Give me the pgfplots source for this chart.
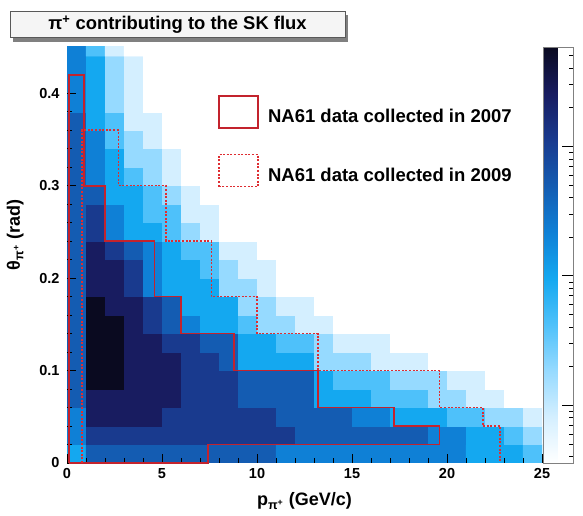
\documentclass[border=0pt]{standalone}
\usepackage{fontspec}
\setmainfont{Liberation Sans}
\usepackage{pgfplots}
\pgfplotsset{compat=1.18}
\definecolor{solidred}{RGB}{195,35,45}
\definecolor{dashred}{RGB}{222,45,50}
\pgfplotsset{boxlegend/.style={legend image code/.code={\draw[##1] (0pt,-11pt) rectangle (39pt,21pt);}}}
\begin{document}
\begin{tikzpicture}
\useasboundingbox (0,0) rectangle (583pt,516pt);
\begin{axis}[
  at={(67pt,53pt)}, anchor=south west,
  scale only axis, width=475pt, height=416pt,
  xmin=0, xmax=25, ymin=0, ymax=0.45,
  axis on top,
  axis line style={draw=none},
  tick pos=left, tick align=inside,
  xtick={0,5,10,15,20,25}, xticklabels={0,5,10,15,20,25},
  ytick={0,0.1,0.2,0.3,0.4}, yticklabels={0,0.1,0.2,0.3,0.4},
  minor x tick num=4, minor y tick num=4,
  major tick length=9pt, minor tick length=5pt,
  tick style={black, line width=0.8pt},
  tick label style={font=\bfseries\fontsize{14.5}{14.5}\selectfont},
  xticklabel style={yshift=-2pt},
  yticklabel style={xshift=-4pt},
  xlabel={p\textsubscript{π\textsuperscript{+}} (GeV/c)},
  ylabel={θ\textsubscript{π\textsuperscript{+}} (rad)},
  label style={font=\bfseries\fontsize{18}{18}\selectfont},
  xlabel style={at={(axis description cs:0.5,-0.092)}, anchor=center},
  ylabel style={at={(axis description cs:-0.109,0.548)}, anchor=center},
  colormap={root}{rgb255(0cm)=(255,255,255); rgb255(1cm)=(212,239,255); rgb255(2cm)=(150,218,255); rgb255(3cm)=(78,193,250); rgb255(4cm)=(20,168,240); rgb255(5cm)=(15,128,214); rgb255(6cm)=(20,92,178); rgb255(7cm)=(25,58,142); rgb255(8cm)=(24,28,96); rgb255(9cm)=(10,10,32)},
  point meta min=0, point meta max=9,
  colorbar,
  colorbar shift/.style={xshift=1.5pt},
  colorbar style={
    at={(parent axis.north east)}, anchor=north west,
    width=30pt,
    ytick={1.25,4.05,6.85}, yticklabels={,,},
    minor ytick={0.14,0.41,0.63,0.82,0.98,1.12,2.09,2.59,2.94,3.21,3.43,3.62,3.78,3.92,4.89,5.39,5.74,6.01,6.23,6.42,6.58,6.72,7.69,8.19,8.54,8.81},
    ytick pos=right, tick align=inside,
    major tick length=12pt, minor tick length=5pt,
    axis line style={draw=gray, line width=0.8pt},
    tick style={black, line width=0.6pt},
  },
]
\addplot[matrix plot*, mesh/cols=25, point meta=explicit] table[meta=c, row sep=\\] {
x y c\\
0.5 0.01 4\\ 1.5 0.01 6\\ 2.5 0.01 6\\ 3.5 0.01 6\\ 4.5 0.01 6\\ 5.5 0.01 6\\ 6.5 0.01 6\\ 7.5 0.01 6\\ 8.5 0.01 6\\ 9.5 0.01 6\\ 10.5 0.01 6\\ 11.5 0.01 5\\ 12.5 0.01 5\\ 13.5 0.01 5\\ 14.5 0.01 5\\ 15.5 0.01 5\\ 16.5 0.01 5\\ 17.5 0.01 5\\ 18.5 0.01 5\\ 19.5 0.01 5\\ 20.5 0.01 5\\ 21.5 0.01 4\\ 22.5 0.01 4\\ 23.5 0.01 4\\ 24.5 0.01 3\\
0.5 0.03 5\\ 1.5 0.03 7\\ 2.5 0.03 7\\ 3.5 0.03 7\\ 4.5 0.03 7\\ 5.5 0.03 7\\ 6.5 0.03 7\\ 7.5 0.03 7\\ 8.5 0.03 7\\ 9.5 0.03 7\\ 10.5 0.03 7\\ 11.5 0.03 7\\ 12.5 0.03 6\\ 13.5 0.03 6\\ 14.5 0.03 6\\ 15.5 0.03 6\\ 16.5 0.03 6\\ 17.5 0.03 6\\ 18.5 0.03 6\\ 19.5 0.03 5\\ 20.5 0.03 5\\ 21.5 0.03 4\\ 22.5 0.03 4\\ 23.5 0.03 3\\ 24.5 0.03 2\\
0.5 0.05 5\\ 1.5 0.05 8\\ 2.5 0.05 8\\ 3.5 0.05 8\\ 4.5 0.05 8\\ 5.5 0.05 7\\ 6.5 0.05 7\\ 7.5 0.05 7\\ 8.5 0.05 7\\ 9.5 0.05 7\\ 10.5 0.05 7\\ 11.5 0.05 6\\ 12.5 0.05 6\\ 13.5 0.05 6\\ 14.5 0.05 6\\ 15.5 0.05 5\\ 16.5 0.05 5\\ 17.5 0.05 4\\ 18.5 0.05 4\\ 19.5 0.05 4\\ 20.5 0.05 3\\ 21.5 0.05 3\\ 22.5 0.05 2\\ 23.5 0.05 2\\ 24.5 0.05 1\\
0.5 0.07 6\\ 1.5 0.07 8\\ 2.5 0.07 8\\ 3.5 0.07 8\\ 4.5 0.07 8\\ 5.5 0.07 8\\ 6.5 0.07 7\\ 7.5 0.07 7\\ 8.5 0.07 7\\ 9.5 0.07 6\\ 10.5 0.07 6\\ 11.5 0.07 6\\ 12.5 0.07 6\\ 13.5 0.07 4\\ 14.5 0.07 4\\ 15.5 0.07 4\\ 16.5 0.07 3\\ 17.5 0.07 3\\ 18.5 0.07 3\\ 19.5 0.07 2\\ 20.5 0.07 2\\ 21.5 0.07 1\\ 22.5 0.07 1\\ 23.5 0.07 0\\ 24.5 0.07 0\\
0.5 0.09 6\\ 1.5 0.09 9\\ 2.5 0.09 9\\ 3.5 0.09 8\\ 4.5 0.09 8\\ 5.5 0.09 8\\ 6.5 0.09 7\\ 7.5 0.09 7\\ 8.5 0.09 7\\ 9.5 0.09 6\\ 10.5 0.09 6\\ 11.5 0.09 6\\ 12.5 0.09 6\\ 13.5 0.09 4\\ 14.5 0.09 3\\ 15.5 0.09 3\\ 16.5 0.09 3\\ 17.5 0.09 2\\ 18.5 0.09 2\\ 19.5 0.09 2\\ 20.5 0.09 1\\ 21.5 0.09 1\\ 22.5 0.09 0\\ 23.5 0.09 0\\ 24.5 0.09 0\\
0.5 0.11 6\\ 1.5 0.11 9\\ 2.5 0.11 9\\ 3.5 0.11 8\\ 4.5 0.11 8\\ 5.5 0.11 8\\ 6.5 0.11 7\\ 7.5 0.11 7\\ 8.5 0.11 6\\ 9.5 0.11 4\\ 10.5 0.11 4\\ 11.5 0.11 4\\ 12.5 0.11 4\\ 13.5 0.11 2\\ 14.5 0.11 2\\ 15.5 0.11 2\\ 16.5 0.11 1\\ 17.5 0.11 1\\ 18.5 0.11 1\\ 19.5 0.11 0\\ 20.5 0.11 0\\ 21.5 0.11 0\\ 22.5 0.11 0\\ 23.5 0.11 0\\ 24.5 0.11 0\\
0.5 0.13 6\\ 1.5 0.13 9\\ 2.5 0.13 9\\ 3.5 0.13 8\\ 4.5 0.13 8\\ 5.5 0.13 7\\ 6.5 0.13 7\\ 7.5 0.13 6\\ 8.5 0.13 6\\ 9.5 0.13 4\\ 10.5 0.13 4\\ 11.5 0.13 3\\ 12.5 0.13 3\\ 13.5 0.13 2\\ 14.5 0.13 1\\ 15.5 0.13 1\\ 16.5 0.13 1\\ 17.5 0.13 0\\ 18.5 0.13 0\\ 19.5 0.13 0\\ 20.5 0.13 0\\ 21.5 0.13 0\\ 22.5 0.13 0\\ 23.5 0.13 0\\ 24.5 0.13 0\\
0.5 0.15 6\\ 1.5 0.15 9\\ 2.5 0.15 9\\ 3.5 0.15 8\\ 4.5 0.15 7\\ 5.5 0.15 6\\ 6.5 0.15 5\\ 7.5 0.15 4\\ 8.5 0.15 4\\ 9.5 0.15 3\\ 10.5 0.15 2\\ 11.5 0.15 2\\ 12.5 0.15 1\\ 13.5 0.15 1\\ 14.5 0.15 0\\ 15.5 0.15 0\\ 16.5 0.15 0\\ 17.5 0.15 0\\ 18.5 0.15 0\\ 19.5 0.15 0\\ 20.5 0.15 0\\ 21.5 0.15 0\\ 22.5 0.15 0\\ 23.5 0.15 0\\ 24.5 0.15 0\\
0.5 0.17 6\\ 1.5 0.17 9\\ 2.5 0.17 8\\ 3.5 0.17 8\\ 4.5 0.17 7\\ 5.5 0.17 6\\ 6.5 0.17 4\\ 7.5 0.17 4\\ 8.5 0.17 4\\ 9.5 0.17 2\\ 10.5 0.17 2\\ 11.5 0.17 1\\ 12.5 0.17 1\\ 13.5 0.17 0\\ 14.5 0.17 0\\ 15.5 0.17 0\\ 16.5 0.17 0\\ 17.5 0.17 0\\ 18.5 0.17 0\\ 19.5 0.17 0\\ 20.5 0.17 0\\ 21.5 0.17 0\\ 22.5 0.17 0\\ 23.5 0.17 0\\ 24.5 0.17 0\\
0.5 0.19 6\\ 1.5 0.19 8\\ 2.5 0.19 8\\ 3.5 0.19 7\\ 4.5 0.19 5\\ 5.5 0.19 4\\ 6.5 0.19 4\\ 7.5 0.19 4\\ 8.5 0.19 2\\ 9.5 0.19 2\\ 10.5 0.19 1\\ 11.5 0.19 0\\ 12.5 0.19 0\\ 13.5 0.19 0\\ 14.5 0.19 0\\ 15.5 0.19 0\\ 16.5 0.19 0\\ 17.5 0.19 0\\ 18.5 0.19 0\\ 19.5 0.19 0\\ 20.5 0.19 0\\ 21.5 0.19 0\\ 22.5 0.19 0\\ 23.5 0.19 0\\ 24.5 0.19 0\\
0.5 0.21 6\\ 1.5 0.21 8\\ 2.5 0.21 8\\ 3.5 0.21 7\\ 4.5 0.21 5\\ 5.5 0.21 4\\ 6.5 0.21 4\\ 7.5 0.21 3\\ 8.5 0.21 2\\ 9.5 0.21 1\\ 10.5 0.21 1\\ 11.5 0.21 0\\ 12.5 0.21 0\\ 13.5 0.21 0\\ 14.5 0.21 0\\ 15.5 0.21 0\\ 16.5 0.21 0\\ 17.5 0.21 0\\ 18.5 0.21 0\\ 19.5 0.21 0\\ 20.5 0.21 0\\ 21.5 0.21 0\\ 22.5 0.21 0\\ 23.5 0.21 0\\ 24.5 0.21 0\\
0.5 0.23 6\\ 1.5 0.23 8\\ 2.5 0.23 7\\ 3.5 0.23 6\\ 4.5 0.23 5\\ 5.5 0.23 4\\ 6.5 0.23 3\\ 7.5 0.23 3\\ 8.5 0.23 1\\ 9.5 0.23 1\\ 10.5 0.23 0\\ 11.5 0.23 0\\ 12.5 0.23 0\\ 13.5 0.23 0\\ 14.5 0.23 0\\ 15.5 0.23 0\\ 16.5 0.23 0\\ 17.5 0.23 0\\ 18.5 0.23 0\\ 19.5 0.23 0\\ 20.5 0.23 0\\ 21.5 0.23 0\\ 22.5 0.23 0\\ 23.5 0.23 0\\ 24.5 0.23 0\\
0.5 0.25 6\\ 1.5 0.25 7\\ 2.5 0.25 5\\ 3.5 0.25 4\\ 4.5 0.25 4\\ 5.5 0.25 3\\ 6.5 0.25 2\\ 7.5 0.25 1\\ 8.5 0.25 0\\ 9.5 0.25 0\\ 10.5 0.25 0\\ 11.5 0.25 0\\ 12.5 0.25 0\\ 13.5 0.25 0\\ 14.5 0.25 0\\ 15.5 0.25 0\\ 16.5 0.25 0\\ 17.5 0.25 0\\ 18.5 0.25 0\\ 19.5 0.25 0\\ 20.5 0.25 0\\ 21.5 0.25 0\\ 22.5 0.25 0\\ 23.5 0.25 0\\ 24.5 0.25 0\\
0.5 0.27 6\\ 1.5 0.27 7\\ 2.5 0.27 5\\ 3.5 0.27 4\\ 4.5 0.27 3\\ 5.5 0.27 3\\ 6.5 0.27 1\\ 7.5 0.27 1\\ 8.5 0.27 0\\ 9.5 0.27 0\\ 10.5 0.27 0\\ 11.5 0.27 0\\ 12.5 0.27 0\\ 13.5 0.27 0\\ 14.5 0.27 0\\ 15.5 0.27 0\\ 16.5 0.27 0\\ 17.5 0.27 0\\ 18.5 0.27 0\\ 19.5 0.27 0\\ 20.5 0.27 0\\ 21.5 0.27 0\\ 22.5 0.27 0\\ 23.5 0.27 0\\ 24.5 0.27 0\\
0.5 0.29 6\\ 1.5 0.29 6\\ 2.5 0.29 4\\ 3.5 0.29 4\\ 4.5 0.29 3\\ 5.5 0.29 2\\ 6.5 0.29 1\\ 7.5 0.29 0\\ 8.5 0.29 0\\ 9.5 0.29 0\\ 10.5 0.29 0\\ 11.5 0.29 0\\ 12.5 0.29 0\\ 13.5 0.29 0\\ 14.5 0.29 0\\ 15.5 0.29 0\\ 16.5 0.29 0\\ 17.5 0.29 0\\ 18.5 0.29 0\\ 19.5 0.29 0\\ 20.5 0.29 0\\ 21.5 0.29 0\\ 22.5 0.29 0\\ 23.5 0.29 0\\ 24.5 0.29 0\\
0.5 0.31 6\\ 1.5 0.31 5\\ 2.5 0.31 4\\ 3.5 0.31 3\\ 4.5 0.31 2\\ 5.5 0.31 1\\ 6.5 0.31 0\\ 7.5 0.31 0\\ 8.5 0.31 0\\ 9.5 0.31 0\\ 10.5 0.31 0\\ 11.5 0.31 0\\ 12.5 0.31 0\\ 13.5 0.31 0\\ 14.5 0.31 0\\ 15.5 0.31 0\\ 16.5 0.31 0\\ 17.5 0.31 0\\ 18.5 0.31 0\\ 19.5 0.31 0\\ 20.5 0.31 0\\ 21.5 0.31 0\\ 22.5 0.31 0\\ 23.5 0.31 0\\ 24.5 0.31 0\\
0.5 0.33 6\\ 1.5 0.33 5\\ 2.5 0.33 4\\ 3.5 0.33 2\\ 4.5 0.33 2\\ 5.5 0.33 1\\ 6.5 0.33 0\\ 7.5 0.33 0\\ 8.5 0.33 0\\ 9.5 0.33 0\\ 10.5 0.33 0\\ 11.5 0.33 0\\ 12.5 0.33 0\\ 13.5 0.33 0\\ 14.5 0.33 0\\ 15.5 0.33 0\\ 16.5 0.33 0\\ 17.5 0.33 0\\ 18.5 0.33 0\\ 19.5 0.33 0\\ 20.5 0.33 0\\ 21.5 0.33 0\\ 22.5 0.33 0\\ 23.5 0.33 0\\ 24.5 0.33 0\\
0.5 0.35 6\\ 1.5 0.35 5\\ 2.5 0.35 3\\ 3.5 0.35 2\\ 4.5 0.35 1\\ 5.5 0.35 0\\ 6.5 0.35 0\\ 7.5 0.35 0\\ 8.5 0.35 0\\ 9.5 0.35 0\\ 10.5 0.35 0\\ 11.5 0.35 0\\ 12.5 0.35 0\\ 13.5 0.35 0\\ 14.5 0.35 0\\ 15.5 0.35 0\\ 16.5 0.35 0\\ 17.5 0.35 0\\ 18.5 0.35 0\\ 19.5 0.35 0\\ 20.5 0.35 0\\ 21.5 0.35 0\\ 22.5 0.35 0\\ 23.5 0.35 0\\ 24.5 0.35 0\\
0.5 0.37 6\\ 1.5 0.37 4\\ 2.5 0.37 3\\ 3.5 0.37 1\\ 4.5 0.37 1\\ 5.5 0.37 0\\ 6.5 0.37 0\\ 7.5 0.37 0\\ 8.5 0.37 0\\ 9.5 0.37 0\\ 10.5 0.37 0\\ 11.5 0.37 0\\ 12.5 0.37 0\\ 13.5 0.37 0\\ 14.5 0.37 0\\ 15.5 0.37 0\\ 16.5 0.37 0\\ 17.5 0.37 0\\ 18.5 0.37 0\\ 19.5 0.37 0\\ 20.5 0.37 0\\ 21.5 0.37 0\\ 22.5 0.37 0\\ 23.5 0.37 0\\ 24.5 0.37 0\\
0.5 0.39 5\\ 1.5 0.39 4\\ 2.5 0.39 2\\ 3.5 0.39 1\\ 4.5 0.39 0\\ 5.5 0.39 0\\ 6.5 0.39 0\\ 7.5 0.39 0\\ 8.5 0.39 0\\ 9.5 0.39 0\\ 10.5 0.39 0\\ 11.5 0.39 0\\ 12.5 0.39 0\\ 13.5 0.39 0\\ 14.5 0.39 0\\ 15.5 0.39 0\\ 16.5 0.39 0\\ 17.5 0.39 0\\ 18.5 0.39 0\\ 19.5 0.39 0\\ 20.5 0.39 0\\ 21.5 0.39 0\\ 22.5 0.39 0\\ 23.5 0.39 0\\ 24.5 0.39 0\\
0.5 0.41 5\\ 1.5 0.41 4\\ 2.5 0.41 2\\ 3.5 0.41 1\\ 4.5 0.41 0\\ 5.5 0.41 0\\ 6.5 0.41 0\\ 7.5 0.41 0\\ 8.5 0.41 0\\ 9.5 0.41 0\\ 10.5 0.41 0\\ 11.5 0.41 0\\ 12.5 0.41 0\\ 13.5 0.41 0\\ 14.5 0.41 0\\ 15.5 0.41 0\\ 16.5 0.41 0\\ 17.5 0.41 0\\ 18.5 0.41 0\\ 19.5 0.41 0\\ 20.5 0.41 0\\ 21.5 0.41 0\\ 22.5 0.41 0\\ 23.5 0.41 0\\ 24.5 0.41 0\\
0.5 0.43 5\\ 1.5 0.43 4\\ 2.5 0.43 2\\ 3.5 0.43 1\\ 4.5 0.43 0\\ 5.5 0.43 0\\ 6.5 0.43 0\\ 7.5 0.43 0\\ 8.5 0.43 0\\ 9.5 0.43 0\\ 10.5 0.43 0\\ 11.5 0.43 0\\ 12.5 0.43 0\\ 13.5 0.43 0\\ 14.5 0.43 0\\ 15.5 0.43 0\\ 16.5 0.43 0\\ 17.5 0.43 0\\ 18.5 0.43 0\\ 19.5 0.43 0\\ 20.5 0.43 0\\ 21.5 0.43 0\\ 22.5 0.43 0\\ 23.5 0.43 0\\ 24.5 0.43 0\\
0.5 0.45 5\\ 1.5 0.45 3\\ 2.5 0.45 1\\ 3.5 0.45 0\\ 4.5 0.45 0\\ 5.5 0.45 0\\ 6.5 0.45 0\\ 7.5 0.45 0\\ 8.5 0.45 0\\ 9.5 0.45 0\\ 10.5 0.45 0\\ 11.5 0.45 0\\ 12.5 0.45 0\\ 13.5 0.45 0\\ 14.5 0.45 0\\ 15.5 0.45 0\\ 16.5 0.45 0\\ 17.5 0.45 0\\ 18.5 0.45 0\\ 19.5 0.45 0\\ 20.5 0.45 0\\ 21.5 0.45 0\\ 22.5 0.45 0\\ 23.5 0.45 0\\ 24.5 0.45 0\\
};
\end{axis}
\begin{axis}[
  at={(67pt,53pt)}, anchor=south west,
  scale only axis, width=475pt, height=416pt,
  xmin=0, xmax=25, ymin=0, ymax=0.45,
  hide axis, clip=false,
  legend cell align=left,
  legend style={draw=none, fill=none, inner sep=0pt,
    at={(axis description cs:0.318,0.885)}, anchor=north west,
    row sep=25pt, column sep=7pt,
    font=\bfseries\fontsize{18.5}{18.5}\selectfont},
]
\addplot[solidred, line width=1.8pt, line join=miter, no marks, boxlegend]
  coordinates {(0.1,0) (0.1,0.42) (0.9,0.42) (0.9,0.30) (2.0,0.30) (2.0,0.24) (4.6,0.24) (4.6,0.18) (6.0,0.18) (6.0,0.14) (8.8,0.14) (8.8,0.10) (13.2,0.10) (13.2,0.06) (17.2,0.06) (17.2,0.04) (19.6,0.04) (19.6,0.02) (7.4,0.02) (7.4,0) (0.1,0)};
\addlegendentry{NA61 data collected in 2007}
\addplot[dashred, line width=1.5pt, dash pattern=on 2pt off 1.6pt, no marks, boxlegend]
  coordinates {(0.8,0) (0.8,0.36) (2.7,0.36) (2.7,0.30) (5.2,0.30) (5.2,0.24) (7.6,0.24) (7.6,0.18) (10.0,0.18) (10.0,0.14) (13.2,0.14) (13.2,0.10) (19.6,0.10) (19.6,0.06) (21.9,0.06) (21.9,0.04) (22.8,0.04) (22.8,0)};
\addlegendentry{NA61 data collected in 2009}
\end{axis}
\fill[black!50] (13pt,474pt) rectangle (348pt,501pt);
\draw[black!65, line width=1pt, fill=black!4] (10pt,478pt) rectangle (345pt,504pt);
\node[font=\bfseries\fontsize{18.4}{18.4}\selectfont] at (177.5pt,491pt) {π\textsuperscript{+} contributing to the SK flux};
\end{tikzpicture}
\end{document}
